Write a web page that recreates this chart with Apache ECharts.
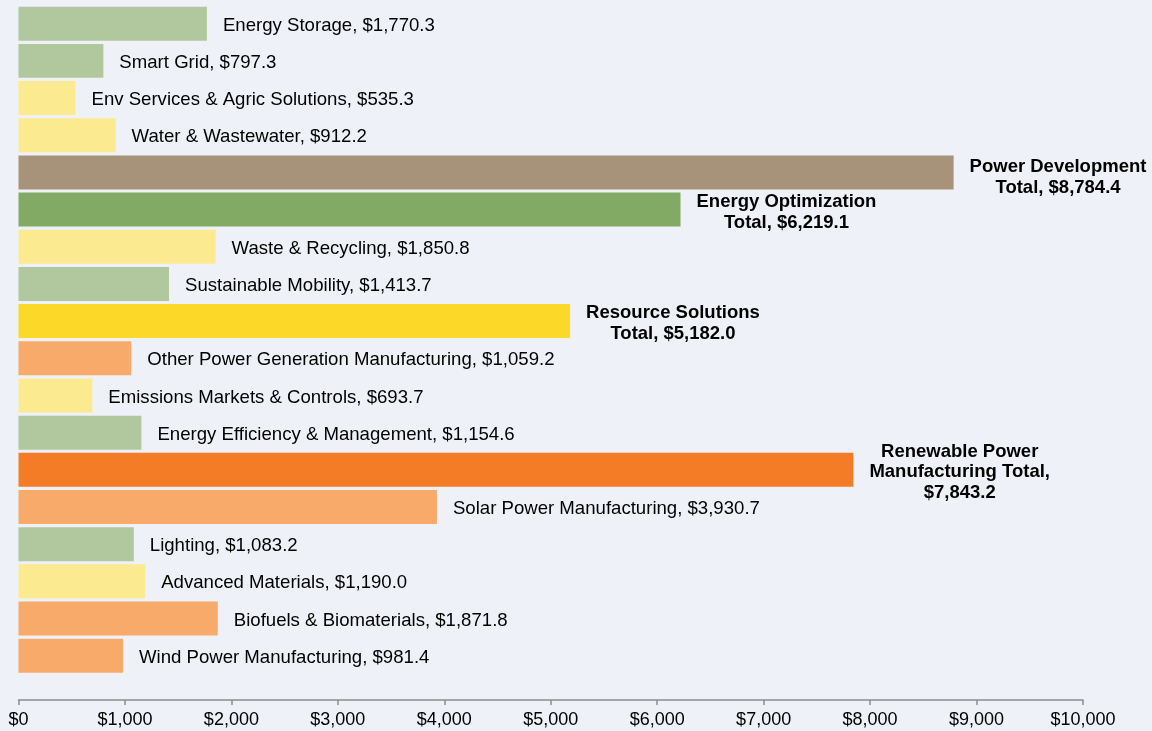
<!DOCTYPE html>
<html>
<head>
<meta charset="utf-8">
<script src="https://cdn.jsdelivr.net/npm/echarts@6/dist/echarts.min.js"></script>
<style>
  html, body { margin: 0; padding: 0; background: #eef1f7; }
  #main { width: 1152px; height: 731px; }
</style>
</head>
<body>
<div id="main"></div>
<script>
  // categories, top to bottom
  var categories = [
    'Energy Storage',
    'Smart Grid',
    'Env Services & Agric Solutions',
    'Water & Wastewater',
    'Power Development Total',
    'Energy Optimization Total',
    'Waste & Recycling',
    'Sustainable Mobility',
    'Resource Solutions Total',
    'Other Power Generation Manufacturing',
    'Emissions Markets & Controls',
    'Energy Efficiency & Management',
    'Renewable Power Manufacturing Total',
    'Solar Power Manufacturing',
    'Lighting',
    'Advanced Materials',
    'Biofuels & Biomaterials',
    'Wind Power Manufacturing'
  ];
  var values = [1770.3, 797.3, 535.3, 912.2, 8784.4, 6219.1, 1850.8, 1413.7, 5182.0,
    1059.2, 693.7, 1154.6, 7843.2, 3930.7, 1083.2, 1190.0, 1871.8, 981.4];
  // segment of each bar (drives colour)
  var groups = ['opt', 'opt', 'res', 'res', 'powTotal', 'optTotal', 'res', 'opt', 'resTotal',
    'ren', 'res', 'opt', 'renTotal', 'ren', 'opt', 'res', 'ren', 'ren'];
  // line breaks for the bold total labels
  var totalLines = {
    'Power Development Total': ['Power Development', 'Total, {v}'],
    'Energy Optimization Total': ['Energy Optimization', 'Total, {v}'],
    'Resource Solutions Total': ['Resource Solutions', 'Total, {v}'],
    'Renewable Power Manufacturing Total': ['Renewable Power', 'Manufacturing Total,', '{v}']
  };
  var xTicks = [0, 1000, 2000, 3000, 4000, 5000, 6000, 7000, 8000, 9000, 10000];

  var colors = {
    opt: '#b1c89e', res: '#fbea90', ren: '#f8aa6b',
    powTotal: '#a6937a', optTotal: '#82aa65', resTotal: '#fcd928', renTotal: '#f47c26'
  };

  function money(v, dec) {
    return '$' + v.toLocaleString('en-US', { minimumFractionDigits: dec, maximumFractionDigits: dec });
  }

  var data = values.map(function (v, i) {
    var item = { value: v, itemStyle: { color: colors[groups[i]] } };
    var lines = totalLines[categories[i]];
    if (lines) {
      item.label = {
        offset: [0, categories[i] === 'Power Development Total' ? 5 : 2.5],
        formatter: lines.map(function (l) {
          return '{b|' + l.replace('{v}', money(v, 1)) + '}';
        }).join('\n'),
        rich: {
          b: { align: 'center', fontWeight: 'bold', fontSize: 18.5, lineHeight: 20.8, color: '#000',
               fontFamily: 'Liberation Sans, Arial, sans-serif' }
        }
      };
    }
    return item;
  });

  var myChart = echarts.init(document.getElementById('main'));
  var option = {
    backgroundColor: '#eef1f7',
    animation: false,
    grid: { left: 18.5, right: 69, top: 5.1, height: 669.2 },
    xAxis: {
      type: 'value',
      min: xTicks[0],
      max: xTicks[xTicks.length - 1],
      interval: 1000,
      offset: 25.7,
      splitLine: { show: false },
      axisLine: { show: true, lineStyle: { color: '#8c8c8c', width: 1.5 } },
      axisTick: { show: true, length: 5, lineStyle: { color: '#8c8c8c', width: 1.5 } },
      axisLabel: {
        margin: 11,
        color: '#000',
        fontSize: 18,
        fontFamily: 'Liberation Sans, Arial, sans-serif',
        formatter: function (v) { return money(v, 0); }
      }
    },
    yAxis: {
      type: 'category',
      data: categories,
      inverse: true,
      show: false
    },
    series: [{
      type: 'bar',
      data: data,
      barCategoryGap: '8.6%',
      label: {
        show: true,
        position: 'right',
        distance: 16,
        offset: [0, 2],
        color: '#000',
        fontSize: 18.6,
        fontFamily: 'Liberation Sans, Arial, sans-serif',
        formatter: function (p) { return p.name + ', ' + money(p.value, 1); }
      }
    }]
  };
  myChart.setOption(option);
</script>
</body>
</html>
